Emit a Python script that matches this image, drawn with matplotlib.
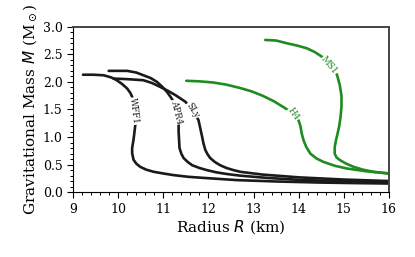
import matplotlib
matplotlib.use("Agg")
import matplotlib.pyplot as plt
from matplotlib.ticker import MultipleLocator

plt.rcParams.update({"font.family": "DejaVu Serif", "mathtext.fontset": "dejavusans"})

BLACK = "#1a1a1a"
GREEN = "#1e8c1e"

# mass-radius curves (R in km, M in Msun)
WFF1_R = [9.22, 9.45, 9.68, 9.85, 9.97, 10.09, 10.2, 10.27, 10.31, 10.35, 10.38, 10.38,
          10.36, 10.34, 10.31, 10.31, 10.34, 10.40, 10.49, 10.62, 10.79, 11.0, 11.23,
          11.55, 11.89, 12.63, 13.5, 14.5, 15.3, 16.3]
WFF1_M = [2.13, 2.13, 2.12, 2.08, 2.03, 1.96, 1.88, 1.80, 1.73, 1.55, 1.35, 1.22,
          1.08, 0.95, 0.80, 0.71, 0.59, 0.52, 0.46, 0.41, 0.37, 0.34, 0.31,
          0.28, 0.26, 0.22, 0.195, 0.175, 0.165, 0.155]

APR4_R = [9.79, 10.0, 10.2, 10.4, 10.56, 10.72, 10.86, 10.98, 11.08, 11.16, 11.23, 11.28,
          11.32, 11.34, 11.34, 11.35, 11.36, 11.40, 11.45, 11.54, 11.64, 11.8, 11.97,
          12.18, 12.41, 12.71, 13.3, 14.0, 15.0, 16.3]
APR4_M = [2.20, 2.20, 2.20, 2.17, 2.12, 2.07, 2.00, 1.91, 1.82, 1.73, 1.64, 1.50,
          1.36, 1.25, 1.10, 0.95, 0.80, 0.70, 0.62, 0.55, 0.49, 0.44, 0.40,
          0.36, 0.33, 0.30, 0.26, 0.225, 0.195, 0.17]

SLY_R = [9.9, 10.2, 10.56, 10.75, 10.93, 11.1, 11.27, 11.38, 11.49, 11.58, 11.66, 11.73,
         11.78, 11.82, 11.86, 11.89, 11.93, 11.98, 12.04, 12.14, 12.26, 12.4, 12.56,
         12.71, 13.2, 14.0, 15.0, 16.3]
SLY_M = [2.06, 2.05, 2.03, 1.98, 1.91, 1.84, 1.76, 1.70, 1.64, 1.55, 1.45, 1.37,
         1.31, 1.16, 1.01, 0.89, 0.77, 0.69, 0.62, 0.55, 0.49, 0.44, 0.40,
         0.37, 0.32, 0.27, 0.23, 0.195]

H4_R = [11.51, 11.8, 12.1, 12.4, 12.7, 12.95, 13.2, 13.45, 13.65, 13.8, 13.92, 14.0,
        14.04, 14.07, 14.11, 14.17, 14.26, 14.4, 14.55, 14.8, 15.07, 15.5, 16.0, 16.3]
H4_M = [2.02, 2.01, 1.99, 1.95, 1.89, 1.83, 1.75, 1.65, 1.55, 1.47, 1.38, 1.30,
        1.20, 1.06, 0.94, 0.82, 0.70, 0.61, 0.55, 0.48, 0.43, 0.38, 0.34, 0.32]

MS1_R = [13.26, 13.5, 13.74, 13.96, 14.18, 14.36, 14.51, 14.63, 14.74, 14.85, 14.91, 14.95,
         14.95, 14.93, 14.9, 14.86, 14.83, 14.80, 14.80, 14.84, 14.92, 15.05, 15.22,
         15.42, 15.66, 16.0, 16.3]
MS1_M = [2.76, 2.75, 2.70, 2.66, 2.61, 2.54, 2.46, 2.37, 2.26, 2.13, 1.95, 1.75,
         1.55, 1.37, 1.20, 1.05, 0.95, 0.82, 0.70, 0.63, 0.58, 0.52, 0.46,
         0.41, 0.37, 0.34, 0.32]

CURVES = [
    ("WFF1", WFF1_R, WFF1_M, BLACK, (10.36, 1.47), -83),
    ("APR4", APR4_R, APR4_M, BLACK, (11.285, 1.45), -76),
    ("SLy", SLY_R, SLY_M, BLACK, (11.64, 1.48), -57),
    ("H4", H4_R, H4_M, GREEN, (13.88, 1.41), -55),
    ("MS1", MS1_R, MS1_M, GREEN, (14.68, 2.30), -50),
]

fig = plt.figure(figsize=(4.15, 2.57), dpi=100)
ax = fig.add_axes([0.176, 0.252, 0.761, 0.644])

for name, r, m, color, pos, rot in CURVES:
    ax.plot(r, m, color=color, lw=1.9, solid_capstyle="round", solid_joinstyle="round")
    ax.text(pos[0], pos[1], name, color=color, fontsize=6.3, rotation=rot,
            rotation_mode="anchor", ha="center", va="center",
            bbox=dict(facecolor="white", edgecolor="none", pad=0.3))

ax.set_xlim(9, 16)
ax.set_ylim(0, 3.0)
ax.xaxis.set_major_locator(MultipleLocator(1))
ax.xaxis.set_minor_locator(MultipleLocator(0.2))
ax.yaxis.set_major_locator(MultipleLocator(0.5))
ax.yaxis.set_minor_locator(MultipleLocator(0.1))
ax.tick_params(which="both", top=False, right=False, direction="out", labelsize=9)
ax.tick_params(which="major", length=4, width=0.8)
ax.tick_params(which="minor", length=2.2, width=0.7)
for side in ("top", "right"):
    ax.spines[side].set_linewidth(1.4)
    ax.spines[side].set_color("#444444")

ax.set_xlabel("Radius $R$ (km)", fontsize=11, labelpad=2)
ax.set_ylabel("Gravitational Mass $M$ (M$_\\odot$)", fontsize=11, labelpad=3)

fig.savefig("out.png", dpi=100)
